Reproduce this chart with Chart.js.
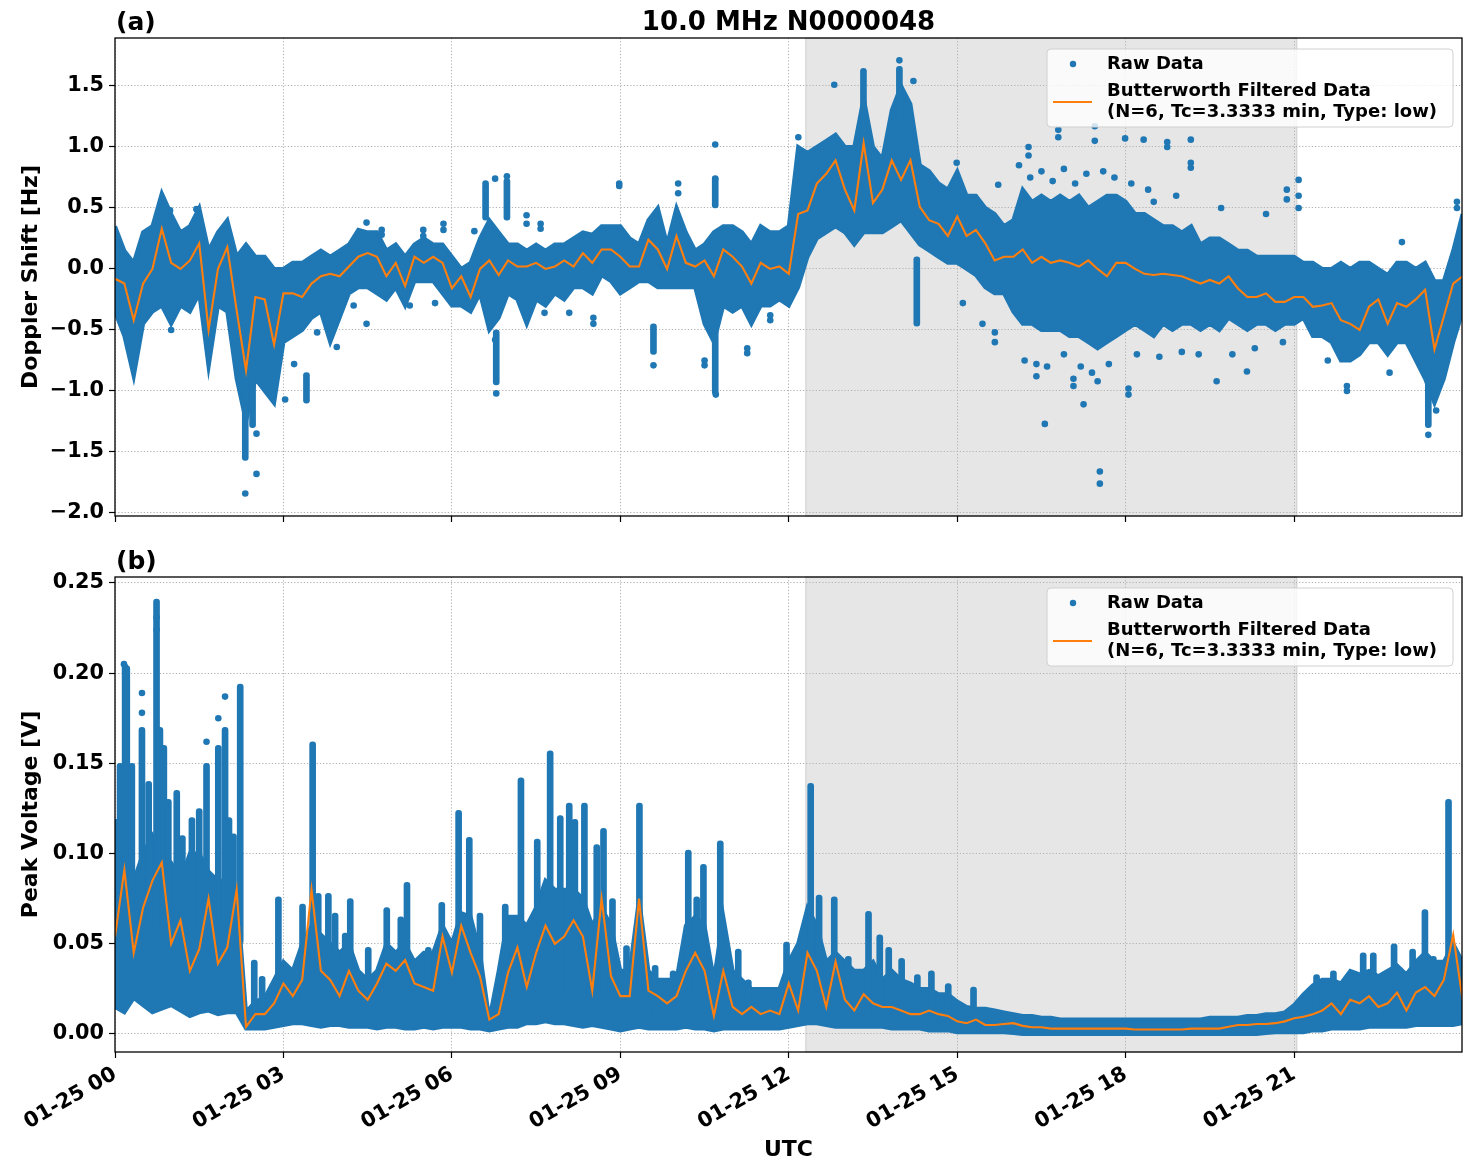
<!DOCTYPE html>
<html>
<head>
<meta charset="utf-8">
<script src="https://cdn.jsdelivr.net/npm/chart.js@4.4.1/dist/chart.umd.min.js"></script>
<style>
  body { margin: 0; background: #fff; }
  #wrap { position: relative; width: 1471px; height: 1172px; }
  canvas { position: absolute; left: 0; }
</style>
</head>
<body>
<div id="wrap">
  <canvas id="chart-a" width="1471" height="540" style="top:0"></canvas>
  <canvas id="chart-b" width="1471" height="632" style="top:540px"></canvas>
</div>
<script>
// 10.0 MHz N0000048 - Doppler shift (a) and peak voltage (b), 2 panels sharing UTC axis

const BLUE = '#1f77b4';
const ORANGE = '#ff7f0e';
const FONT = "'DejaVu Sans', sans-serif";

// shaded interval (hours UTC)
const shadeStart = 12.3;
const shadeEnd = 21.05;

// time grid (hours since 01-25 00:00), 10-minute samples
const t10 = Array.from({ length: 145 }, (_, i) => i / 6);

// ---- panel (a): Doppler shift [Hz] ----
// Butterworth filtered, every 10 min (one row = one hour)
const dopplerFilt = [
  -0.08, -0.12, -0.42, -0.12, 0.0, 0.33,
  0.05, 0.0, 0.07, 0.21, -0.5, 0.0,
  0.18, -0.34, -0.83, -0.23, -0.25, -0.62,
  -0.2, -0.2, -0.23, -0.12, -0.06, -0.04,
  -0.06, 0.02, 0.1, 0.13, 0.1, -0.06,
  0.05, -0.14, 0.1, 0.05, 0.1, 0.05,
  -0.16, -0.06, -0.23, 0.0, 0.07, -0.05,
  0.07, 0.02, 0.02, 0.05, 0.0, 0.02,
  0.07, 0.02, 0.13, 0.05, 0.16, 0.16,
  0.1, 0.02, 0.02, 0.24, 0.16, 0.0,
  0.27, 0.05, 0.02, 0.07, -0.06, 0.16,
  0.1, 0.02, -0.12, 0.05, 0.0, 0.02,
  -0.04, 0.45, 0.48, 0.7, 0.78, 0.89,
  0.65, 0.48, 1.03, 0.54, 0.65, 0.89,
  0.73, 0.89, 0.51, 0.4, 0.37, 0.27,
  0.43, 0.27, 0.32, 0.21, 0.07, 0.1,
  0.1, 0.16, 0.05, 0.1, 0.05, 0.07,
  0.05, 0.02, 0.07, 0.0, -0.06, 0.05,
  0.05, 0.0, -0.04, -0.05, -0.04, -0.05,
  -0.06, -0.09, -0.12, -0.09, -0.12, -0.06,
  -0.16, -0.23, -0.23, -0.2, -0.27, -0.27,
  -0.23, -0.23, -0.31, -0.3, -0.28, -0.42,
  -0.45, -0.5, -0.31, -0.25, -0.45, -0.28,
  -0.31, -0.25, -0.17, -0.66, -0.39, -0.12,
  -0.06
];
// raw data spread, upper / lower edge every 10 min
const dopplerRawHi = [
  0.35, 0.15, 0.05, 0.3, 0.35, 0.62,
  0.45, 0.3, 0.35, 0.5, 0.15, 0.3,
  0.4, 0.1, 0.2, 0.1, 0.1, 0.0,
  0.0, 0.05, 0.05, 0.1, 0.15, 0.1,
  0.15, 0.2, 0.32, 0.3, 0.3, 0.15,
  0.2, 0.1, 0.2, 0.25, 0.2, 0.2,
  0.1, 0.0, 0.05, 0.25, 0.4, 0.3,
  0.2, 0.2, 0.15, 0.2, 0.15, 0.2,
  0.2, 0.25, 0.3, 0.28, 0.35, 0.35,
  0.35, 0.25, 0.2, 0.4, 0.5, 0.2,
  0.5, 0.3, 0.15, 0.2, 0.3, 0.35,
  0.35, 0.3, 0.2, 0.35, 0.3, 0.3,
  0.35, 1.0, 0.95, 1.0, 1.05, 1.1,
  1.0, 1.0, 1.4, 1.0, 0.9, 1.3,
  1.5, 1.35, 0.85, 0.8, 0.7, 0.65,
  0.8, 0.6, 0.6, 0.5, 0.45, 0.35,
  0.4, 0.65, 0.55, 0.6, 0.55, 0.6,
  0.55, 0.6, 0.5, 0.55, 0.6, 0.6,
  0.55, 0.45, 0.45, 0.4, 0.35, 0.35,
  0.3, 0.35, 0.2, 0.25, 0.25, 0.2,
  0.15, 0.15, 0.1, 0.1, 0.1, 0.1,
  0.1, 0.05, 0.05, 0.0, 0.0, 0.05,
  0.0, 0.05, 0.05, 0.0, -0.05, 0.05,
  0.05, 0.0, 0.05, -0.1, -0.1, 0.15,
  0.45
];
const dopplerRawLo = [
  -0.35, -0.55, -0.88, -0.45, -0.35, -0.3,
  -0.45, -0.3, -0.35, -0.2, -0.8, -0.3,
  -0.35, -0.9, -1.25, -0.9, -1.0, -1.1,
  -0.6, -0.55, -0.5, -0.4, -0.35, -0.6,
  -0.4, -0.2, -0.15, -0.15, -0.2, -0.25,
  -0.15, -0.3, -0.1, -0.1, -0.1, -0.2,
  -0.3, -0.3, -0.35, -0.2, -0.5, -0.4,
  -0.2, -0.25, -0.45, -0.25, -0.3, -0.2,
  -0.25, -0.15, -0.15, -0.2, -0.05, -0.1,
  -0.2, -0.15, -0.1, -0.1, -0.15, -0.15,
  -0.15, -0.15, -0.15, -0.45, -0.6, -0.3,
  -0.35, -0.3, -0.45, -0.3, -0.3, -0.25,
  -0.3, -0.15, 0.1, 0.25, 0.3, 0.35,
  0.3, 0.2, 0.3, 0.3, 0.3, 0.35,
  0.4, 0.3, 0.2, 0.15, 0.1, 0.05,
  0.05, 0.0, -0.05, -0.15, -0.2, -0.2,
  -0.35, -0.45, -0.45, -0.5, -0.5, -0.5,
  -0.55, -0.55, -0.6, -0.65, -0.6, -0.55,
  -0.5, -0.45, -0.5, -0.55, -0.45, -0.5,
  -0.45, -0.45, -0.5, -0.45, -0.5, -0.4,
  -0.45, -0.5, -0.45, -0.45, -0.5, -0.45,
  -0.45, -0.4, -0.55, -0.55, -0.6, -0.75,
  -0.75, -0.7, -0.6, -0.6, -0.7, -0.6,
  -0.6, -0.75, -0.9, -1.1, -0.9, -0.6,
  -0.35
];
// streaks of raw points: [hour, from, to]
const dopplerStreaks = [
  [2.32, -1.57, -0.8], [2.45, -1.3, -0.9], [3.41, -1.1, -0.85], [6.79, -0.95, -0.5],
  [10.69, -1.03, -0.5], [10.69, 0.5, 0.76], [13.33, 1.1, 1.62], [13.97, 1.2, 1.66],
  [14.28, -0.47, 0.1], [23.39, -1.3, -0.8], [9.59, -0.7, -0.45], [6.98, 0.4, 0.74],
  [6.6, 0.4, 0.7]
];
// isolated raw points: [hour, Hz]
const dopplerOutliers = [
  [1.0, -0.5], [0.98, 0.48], [1.45, 0.49], [2.32, -1.84], [2.52, -1.68], [2.52, -1.35],
  [3.03, -1.07], [3.19, -0.78], [3.95, -0.64], [3.6, -0.52], [4.48, -0.45], [4.75, 0.32],
  [4.75, 0.28], [5.49, 0.32], [5.49, 0.27], [5.85, 0.37], [5.85, 0.32], [4.48, 0.38],
  [4.25, -0.3], [5.25, -0.3], [5.7, -0.28],
  [10.69, 1.02], [10.69, 0.74], [6.79, -1.02], [6.77, -0.58], [10.7, -1.03], [9.59, -0.79],
  [10.5, -0.79], [10.5, -0.75], [11.26, -0.69], [11.26, -0.65], [6.98, 0.76], [6.77, 0.74],
  [6.6, 0.7], [8.98, 0.7], [8.98, 0.68], [10.03, 0.7], [10.03, 0.62], [7.33, 0.44],
  [7.33, 0.37], [7.58, 0.37], [7.58, 0.33], [8.52, -0.45], [8.52, -0.4], [7.65, -0.36],
  [8.09, -0.36], [11.67, -0.42], [11.67, -0.38], [6.4, 0.31], [12.17, 1.08],
  [13.97, 1.71], [13.33, 1.62], [14.22, 1.54], [12.81, 1.51], [15.67, -0.6], [15.67, -0.52],
  [16.56, -1.27], [17.54, -1.66], [17.54, -1.76], [17.25, -1.11], [17.45, 1.17], [17.45, 1.05],
  [16.8, 1.14], [16.8, 1.08], [16.27, 1.0], [16.27, 0.93], [17.99, 1.07], [18.05, -1.03],
  [16.41, -0.88], [16.41, -0.78], [17.07, -0.96], [17.07, -0.9], [17.5, -0.92], [15.1, -0.28],
  [15.45, -0.45], [14.99, 0.87], [15.73, 0.69],
  [16.1, 0.85], [16.3, 0.75], [16.5, 0.8], [16.7, 0.72], [16.9, 0.82], [17.1, 0.7],
  [17.3, 0.78], [17.6, 0.8], [17.8, 0.75], [18.1, 0.7], [18.4, 0.65], [18.9, 0.6],
  [16.2, -0.75], [16.6, -0.8], [16.9, -0.7], [17.2, -0.8], [17.4, -0.85], [17.7, -0.78],
  [18.2, -0.7], [18.6, -0.72], [19.0, -0.68], [19.3, -0.7], [19.9, -0.7], [20.3, -0.65],
  [20.8, -0.6],
  [23.39, -1.36], [23.53, -1.16], [21.08, 0.73], [21.08, 0.6], [21.08, 0.5], [20.87, 0.65],
  [20.87, 0.57], [18.32, 1.06], [18.74, 1.04], [18.74, 1.0], [19.16, 1.06], [19.16, 0.87],
  [19.16, 0.83], [18.05, -0.98], [19.62, -0.92], [20.16, -0.84], [21.94, -1.0], [21.94, -0.96],
  [22.92, 0.22], [23.9, 0.55], [23.9, 0.5], [18.5, 0.55], [19.7, 0.5], [20.5, 0.45],
  [21.6, -0.75], [22.7, -0.85]
];
const dopplerTicks = [-2.0, -1.5, -1.0, -0.5, 0.0, 0.5, 1.0, 1.5];

// ---- panel (b): peak voltage [V] ----
const voltFilt = [
  0.054, 0.091, 0.045, 0.07, 0.085, 0.095,
  0.05, 0.063, 0.035, 0.047, 0.075, 0.039,
  0.048, 0.08, 0.004, 0.011, 0.011, 0.017,
  0.028, 0.021, 0.03, 0.08, 0.035, 0.03,
  0.021, 0.035, 0.024, 0.019, 0.028, 0.039,
  0.035, 0.041, 0.028, 0.026, 0.024, 0.054,
  0.034, 0.06, 0.045, 0.032, 0.008, 0.011,
  0.034, 0.048, 0.026, 0.045, 0.06, 0.05,
  0.054, 0.063, 0.054, 0.024, 0.075, 0.032,
  0.021, 0.021, 0.075, 0.024, 0.021, 0.017,
  0.021, 0.035, 0.045, 0.035, 0.01, 0.035,
  0.015, 0.011, 0.015, 0.011, 0.013, 0.011,
  0.028, 0.013, 0.045, 0.035, 0.015, 0.04,
  0.019, 0.013, 0.022, 0.017, 0.015, 0.015,
  0.013, 0.011, 0.011, 0.013, 0.011, 0.01,
  0.007, 0.006, 0.008, 0.005, 0.005, 0.0055,
  0.006, 0.0045, 0.0037, 0.0037, 0.003, 0.003,
  0.003, 0.003, 0.003, 0.003, 0.003, 0.003,
  0.003, 0.0025, 0.0025, 0.0025, 0.0025, 0.0025,
  0.0025, 0.003, 0.003, 0.003, 0.003, 0.004,
  0.005, 0.005, 0.0055, 0.0055, 0.006, 0.007,
  0.0087, 0.0096, 0.011, 0.013, 0.017, 0.011,
  0.019, 0.017, 0.021, 0.015, 0.017, 0.023,
  0.013, 0.023, 0.026, 0.021, 0.03, 0.055,
  0.019
];
// raw data spread, upper / lower edge every 10 min
const voltRawHi = [
  0.09, 0.1, 0.085, 0.1, 0.11, 0.1,
  0.095, 0.085, 0.1, 0.1, 0.09, 0.085,
  0.085, 0.08, 0.012, 0.018, 0.02, 0.03,
  0.04, 0.035, 0.05, 0.06, 0.055, 0.05,
  0.045, 0.05, 0.035, 0.03, 0.035, 0.05,
  0.045, 0.05, 0.04, 0.045, 0.045, 0.06,
  0.05, 0.067, 0.065, 0.045, 0.008, 0.035,
  0.065, 0.065, 0.06, 0.07, 0.085, 0.08,
  0.08, 0.08, 0.075, 0.06, 0.07, 0.06,
  0.035, 0.035, 0.075, 0.035, 0.03, 0.03,
  0.03, 0.06, 0.065, 0.06, 0.03, 0.065,
  0.035, 0.03, 0.025, 0.025, 0.025, 0.025,
  0.04, 0.05, 0.07, 0.06, 0.04, 0.045,
  0.04, 0.035, 0.035, 0.04, 0.03, 0.035,
  0.03, 0.028, 0.025, 0.025, 0.022, 0.022,
  0.018, 0.015, 0.014, 0.014, 0.013, 0.012,
  0.011, 0.01, 0.01, 0.009, 0.009, 0.008,
  0.008, 0.008, 0.008, 0.008, 0.008, 0.008,
  0.008, 0.008, 0.008, 0.008, 0.008, 0.008,
  0.008, 0.008, 0.008, 0.009, 0.009, 0.009,
  0.009, 0.01, 0.01, 0.011, 0.011, 0.012,
  0.016, 0.022, 0.027, 0.03, 0.03, 0.028,
  0.035, 0.033, 0.035, 0.032, 0.035, 0.038,
  0.033, 0.04, 0.045, 0.04, 0.04, 0.05,
  0.04
];
const voltRawLo = [
  0.015, 0.012, 0.02, 0.016, 0.012, 0.014,
  0.016, 0.013, 0.01, 0.012, 0.013, 0.011,
  0.012, 0.012, 0.003, 0.003, 0.003, 0.004,
  0.005, 0.006, 0.006, 0.005, 0.004, 0.005,
  0.005, 0.004, 0.004, 0.004, 0.003, 0.004,
  0.004, 0.003, 0.003, 0.004, 0.003, 0.004,
  0.004, 0.004, 0.003, 0.003, 0.002, 0.003,
  0.004, 0.004, 0.006, 0.006, 0.007, 0.006,
  0.006, 0.005, 0.004, 0.005, 0.004, 0.003,
  0.002, 0.003, 0.004, 0.003, 0.003, 0.003,
  0.003, 0.004, 0.003, 0.003, 0.002, 0.003,
  0.003, 0.003, 0.003, 0.003, 0.003, 0.003,
  0.004, 0.005, 0.006, 0.006, 0.005, 0.004,
  0.004, 0.004, 0.004, 0.004, 0.004, 0.003,
  0.003, 0.003, 0.003, 0.002, 0.002, 0.002,
  0.001, 0.001, 0.001, 0.001, 0.001, 0.001,
  0.0005, 0.0, 0.0, 0.0, 0.0, 0.0,
  0.0, 0.0, 0.0, 0.0, 0.0, 0.0,
  0.0, 0.0, 0.0, 0.0, 0.0, 0.0,
  0.0, 0.0, 0.0, 0.0, 0.0, 0.0,
  0.0, 0.0, 0.0, 0.0005, 0.001, 0.001,
  0.001, 0.001, 0.002, 0.002, 0.003, 0.003,
  0.003, 0.003, 0.004, 0.004, 0.004, 0.004,
  0.004, 0.005, 0.005, 0.005, 0.005, 0.005,
  0.006
];
const voltStreaks = [
  [0.03, 0.06, 0.119], [0.09, 0.06, 0.15], [0.18, 0.06, 0.205], [0.21, 0.08, 0.204],
  [0.3, 0.06, 0.15], [0.48, 0.06, 0.17], [0.6, 0.06, 0.14], [0.74, 0.06, 0.241],
  [0.8, 0.08, 0.17], [0.87, 0.06, 0.16], [0.95, 0.06, 0.13], [1.1, 0.06, 0.135],
  [1.2, 0.06, 0.11], [1.37, 0.06, 0.12], [1.5, 0.06, 0.125], [1.63, 0.06, 0.15],
  [1.84, 0.06, 0.16], [1.96, 0.06, 0.17], [2.03, 0.06, 0.12], [2.11, 0.05, 0.111],
  [2.23, 0.05, 0.194], [2.48, 0.01, 0.041], [2.62, 0.01, 0.032], [2.91, 0.02, 0.076],
  [3.34, 0.02, 0.072], [3.52, 0.02, 0.162], [3.62, 0.02, 0.078], [3.8, 0.02, 0.078],
  [3.92, 0.02, 0.067], [4.1, 0.02, 0.056], [4.19, 0.02, 0.075], [4.51, 0.02, 0.048],
  [4.84, 0.02, 0.07], [5.09, 0.02, 0.065], [5.2, 0.02, 0.084], [5.58, 0.02, 0.048],
  [5.82, 0.02, 0.073], [5.94, 0.02, 0.049], [6.12, 0.02, 0.124], [6.31, 0.02, 0.109],
  [6.5, 0.02, 0.067], [6.95, 0.02, 0.072], [7.23, 0.02, 0.142], [7.52, 0.02, 0.108],
  [7.75, 0.02, 0.157], [7.93, 0.02, 0.121], [8.09, 0.02, 0.128], [8.19, 0.02, 0.119],
  [8.36, 0.02, 0.128], [8.58, 0.02, 0.105], [8.7, 0.02, 0.114], [8.86, 0.02, 0.075],
  [9.11, 0.02, 0.049], [9.34, 0.02, 0.128], [9.62, 0.01, 0.038], [9.94, 0.01, 0.035],
  [10.21, 0.02, 0.102], [10.36, 0.02, 0.076], [10.48, 0.02, 0.094], [10.78, 0.02, 0.107],
  [11.1, 0.01, 0.047], [11.28, 0.01, 0.03], [11.96, 0.01, 0.051], [12.39, 0.02, 0.139],
  [12.54, 0.02, 0.077], [12.81, 0.02, 0.076], [13.06, 0.01, 0.043], [13.42, 0.01, 0.068],
  [13.62, 0.01, 0.055], [13.78, 0.01, 0.048], [14.01, 0.01, 0.042], [14.29, 0.01, 0.033],
  [14.54, 0.01, 0.035], [14.84, 0.01, 0.028], [15.29, 0.005, 0.026], [21.4, 0.01, 0.033],
  [21.7, 0.01, 0.035], [22.23, 0.01, 0.045], [22.41, 0.01, 0.045], [22.78, 0.01, 0.05],
  [23.11, 0.01, 0.047], [23.33, 0.01, 0.069], [23.48, 0.01, 0.043], [23.75, 0.01, 0.13]
];
const voltOutliers = [
  [0.48, 0.178], [0.48, 0.189], [1.63, 0.162], [1.84, 0.175], [1.96, 0.187],
  [0.16, 0.205], [0.74, 0.231], [0.74, 0.224]
];
const voltTicks = [0.0, 0.05, 0.1, 0.15, 0.2, 0.25];

// x ticks every 3 hours
const xTickHours = [0, 3, 6, 9, 12, 15, 18, 21];
const xTickLabels = ['01-25 00', '01-25 03', '01-25 06', '01-25 09', '01-25 12', '01-25 15', '01-25 18', '01-25 21'];

const legendLabels = ['Raw Data', 'Butterworth Filtered Data', '(N=6, Tc=3.3333 min, Type: low)'];

function fmtMinus(s) { return s.replace('-', '\u2212'); }

function buildDatasets(filt, hi, lo, streaks, outliers) {
  return [
    { type: 'line', data: t10.map((t, i) => ({ x: t, y: filt[i] })), borderColor: ORANGE, borderWidth: 2.1,
      pointRadius: 0, tension: 0, fill: false, order: 0 },
    { type: 'scatter', data: outliers.map(p => ({ x: p[0], y: p[1] })), backgroundColor: BLUE,
      borderWidth: 0, pointRadius: 3.3, order: 1 },
    { type: 'bar', data: streaks.map(s => ({ x: s[0], y: [s[1], s[2]] })), backgroundColor: BLUE,
      barThickness: 6, borderRadius: 3, borderSkipped: false, order: 1 },
    { type: 'line', data: t10.map((t, i) => ({ x: t, y: hi[i] })), borderColor: BLUE, borderWidth: 4,
      pointRadius: 0, tension: 0, fill: '+1', backgroundColor: BLUE, order: 2 },
    { type: 'line', data: t10.map((t, i) => ({ x: t, y: lo[i] })), borderColor: BLUE, borderWidth: 4,
      pointRadius: 0, tension: 0, fill: false, order: 2 }
  ];
}

function decoPlugin(panelLabel, title) {
  return {
    id: 'deco',
    beforeDraw(chart) {
      const { ctx, chartArea: a, scales: { x } } = chart;
      const x0 = x.getPixelForValue(shadeStart), x1 = x.getPixelForValue(shadeEnd);
      ctx.save();
      ctx.fillStyle = '#e6e6e6';
      ctx.fillRect(x0, a.top, x1 - x0, a.bottom - a.top);
      ctx.strokeStyle = 'rgba(128,128,128,0.2)';
      ctx.lineWidth = 1.5;
      ctx.strokeRect(x0, a.top, x1 - x0, a.bottom - a.top);
      ctx.restore();
    },
    afterDatasetsDraw(chart) {
      const { ctx, chartArea: a } = chart;
      const bx = a.right - 415, by = a.top + 11, bw = 406, bh = 78;
      ctx.save();
      ctx.beginPath();
      ctx.roundRect(bx, by, bw, bh, 4);
      ctx.fillStyle = 'rgba(255,255,255,0.8)';
      ctx.fill();
      ctx.strokeStyle = '#d0d0d0';
      ctx.lineWidth = 1;
      ctx.stroke();
      ctx.fillStyle = BLUE;
      ctx.beginPath();
      ctx.arc(bx + 26, by + 15, 3.2, 0, Math.PI * 2);
      ctx.fill();
      ctx.strokeStyle = ORANGE;
      ctx.lineWidth = 2.1;
      ctx.beginPath();
      ctx.moveTo(bx + 6, by + 53);
      ctx.lineTo(bx + 45, by + 53);
      ctx.stroke();
      ctx.fillStyle = '#000';
      ctx.font = 'bold 18px ' + FONT;
      ctx.textAlign = 'left';
      ctx.textBaseline = 'middle';
      ctx.fillText(legendLabels[0], bx + 60, by + 15);
      ctx.fillText(legendLabels[1], bx + 60, by + 42);
      ctx.fillText(legendLabels[2], bx + 60, by + 63);
      ctx.restore();
    },
    afterDraw(chart) {
      const { ctx, chartArea: a } = chart;
      ctx.save();
      ctx.strokeStyle = '#000';
      ctx.lineWidth = 1.3;
      ctx.strokeRect(a.left, a.top, a.right - a.left, a.bottom - a.top);
      ctx.fillStyle = '#000';
      ctx.textBaseline = 'alphabetic';
      ctx.font = 'bold 25px ' + FONT;
      ctx.textAlign = 'left';
      ctx.fillText(panelLabel, a.left + 1, a.top - 8);
      if (title) {
        ctx.font = 'bold 26px ' + FONT;
        ctx.textAlign = 'center';
        ctx.fillText(title, (a.left + a.right) / 2, a.top - 8);
      }
      ctx.restore();
    }
  };
}

function makeChart(id, cfg) {
  const tickFont = { family: FONT, size: 20.8, weight: 'bold' };
  const titleFont = { family: FONT, size: 22, weight: 'bold' };
  return new Chart(document.getElementById(id), {
    type: 'line',
    data: { datasets: buildDatasets(cfg.filt, cfg.hi, cfg.lo, cfg.streaks, cfg.outliers) },
    options: {
      responsive: false,
      animation: false,
      events: [],
      layout: { padding: { top: cfg.padTop, right: 9, left: 0, bottom: 0 } },
      plugins: { legend: { display: false }, tooltip: { enabled: false } },
      scales: {
        x: {
          type: 'linear', min: 0, max: 23.99, offset: false,
          afterBuildTicks: s => { s.ticks = xTickHours.map(v => ({ value: v })); },
          afterFit: s => { s.height = cfg.xHeight; },
          grid: { offset: false, color: '#b0b0b0', lineWidth: 1, drawTicks: true, tickLength: 6, tickColor: '#000', tickWidth: 1.2 },
          border: { display: false, dash: [1.2, 2] },
          ticks: {
            autoSkip: false, maxRotation: 30, minRotation: cfg.showX ? 30 : 0, padding: 4, color: '#000', font: tickFont,
            callback: v => cfg.showX ? xTickLabels[xTickHours.indexOf(v)] : ''
          },
          title: { display: cfg.showX, text: 'UTC', color: '#000', font: titleFont, padding: { top: 0, bottom: 9 } }
        },
        y: {
          type: 'linear', min: cfg.yMin, max: cfg.yMax,
          afterBuildTicks: s => { s.ticks = cfg.yTicks.map(v => ({ value: v })); },
          afterFit: s => { s.width = 115; },
          grid: { color: '#b0b0b0', lineWidth: 1, drawTicks: true, tickLength: 6, tickColor: '#000', tickWidth: 1.2 },
          border: { display: false, dash: [1.2, 2] },
          ticks: { padding: 5, color: '#000', font: tickFont, callback: v => fmtMinus(v.toFixed(cfg.dec)) },
          title: { display: true, text: cfg.yTitle, color: '#000', font: titleFont, padding: { top: 18, bottom: 0 } }
        }
      }
    },
    plugins: [decoPlugin(cfg.panel, cfg.title)]
  });
}

makeChart('chart-a', {
  filt: dopplerFilt, hi: dopplerRawHi, lo: dopplerRawLo, streaks: dopplerStreaks, outliers: dopplerOutliers,
  padTop: 38, xHeight: 24, showX: false, yMin: -2.025, yMax: 1.893, yTicks: dopplerTicks, dec: 1,
  yTitle: 'Doppler Shift [Hz]', panel: '(a)', title: '10.0 MHz N0000048'
});
makeChart('chart-b', {
  filt: voltFilt, hi: voltRawHi, lo: voltRawLo, streaks: voltStreaks, outliers: voltOutliers,
  padTop: 37, xHeight: 120, showX: true, yMin: -0.00998, yMax: 0.2533, yTicks: voltTicks, dec: 2,
  yTitle: 'Peak Voltage [V]', panel: '(b)', title: null
});
</script>
</body>
</html>
